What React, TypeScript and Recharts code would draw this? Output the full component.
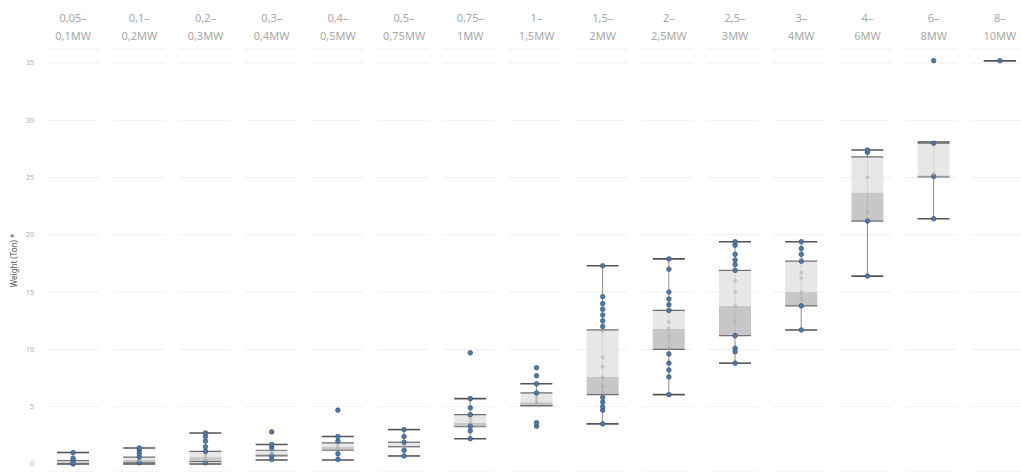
import React from "react";
import {
  Bar,
  CartesianGrid,
  ComposedChart,
  Scatter,
  XAxis,
  YAxis,
} from "recharts";

const CATS = [
  "0,05–|0,1MW",
  "0,1–|0,2MW",
  "0,2–|0,3MW",
  "0,3–|0,4MW",
  "0,4–|0,5MW",
  "0,5–|0,75MW",
  "0,75–|1MW",
  "1–|1,5MW",
  "1,5–|2MW",
  "2–|2,5MW",
  "2,5–|3MW",
  "3–|4MW",
  "4–|6MW",
  "6–|8MW",
  "8–|10MW",
];

// whisker ends and box quartiles, in tons
const LOW = [0, 0, 0, 0.35, 0.35, 0.7, 2.2, 5.1, 3.5, 6.05, 8.8, 11.7, 16.4, 21.4, 35.2];
const Q1 = [0.05, 0.1, 0.2, 0.7, 1.2, 1.5, 3.25, 5.1, 6.05, 10.0, 11.2, 13.8, 21.2, 25.05, null];
const MED = [0.15, 0.35, 0.6, 0.9, 1.5, 1.6, 3.6, 5.4, 7.6, 11.8, 13.8, 15.0, 23.7, 25.2, null];
const Q3 = [0.3, 0.6, 1.1, 1.2, 1.85, 1.9, 4.3, 6.2, 11.7, 13.4, 16.9, 17.7, 26.8, 28.0, null];
const HIGH = [1.0, 1.4, 2.7, 1.7, 2.4, 3.0, 5.7, 7.0, 17.3, 17.9, 19.4, 19.4, 27.4, 28.1, 35.2];

// individual observations per category
const POINTS: number[][] = [
  [0, 0.1, 0.2, 0.3, 0.5, 1.0],
  [0.1, 0.3, 0.4, 0.6, 0.9, 1.2, 1.4],
  [0.1, 0.3, 0.6, 0.9, 1.1, 1.5, 2.0, 2.4, 2.7],
  [0.4, 0.7, 0.9, 1.1, 1.4, 1.7, 2.8],
  [0.4, 0.9, 1.3, 1.6, 2.0, 2.4, 4.7],
  [0.7, 1.2, 1.6, 1.9, 2.4, 3.0],
  [2.2, 2.9, 3.3, 3.6, 3.9, 4.3, 4.9, 5.7, 9.7],
  [3.3, 3.6, 5.2, 5.5, 5.8, 6.2, 7.0, 7.7, 8.4],
  [3.5, 4.7, 5.0, 5.4, 5.8, 6.2, 6.8, 7.6, 8.5, 9.3, 11.6, 12.0, 12.5, 13.0, 13.5, 14.0, 14.6, 17.3],
  [6.05, 7.6, 8.2, 8.8, 9.6, 10.1, 11.2, 11.8, 12.4, 13.4, 13.9, 14.4, 15.0, 17.0, 17.9],
  [8.8, 9.8, 10.1, 11.2, 12.5, 13.8, 15.0, 16.0, 16.9, 17.4, 17.8, 18.3, 19.1, 19.4],
  [11.7, 13.8, 14.4, 15.0, 16.2, 16.7, 17.7, 18.3, 18.8, 19.4],
  [16.4, 21.2, 22.0, 25.0, 27.2, 27.4],
  [21.4, 25.1, 25.3, 28.0, 35.2],
  [35.2],
];

const Y_TICKS = [0, 5, 10, 15, 20, 25, 30, 35];

const rows = CATS.map((cat, i) => ({
  cat,
  low: LOW[i],
  q1: Q1[i],
  med: MED[i],
  q3: Q3[i],
  high: HIGH[i],
}));

const dots = POINTS.flatMap((vals, i) => vals.map((v) => ({ cat: CATS[i], v })));

const CatTick = (props: any) => {
  const { x, y, payload } = props;
  const [a, b] = String(payload.value).split("|");
  return (
    <g>
      <text x={x} y={y - 19} textAnchor="middle" fontSize={11} fill="#a8a8a8">
        {a}
      </text>
      <text x={x} y={y - 1} textAnchor="middle" fontSize={11} fill="#a8a8a8">
        {b}
      </text>
    </g>
  );
};

const Whisker = (props: any) => {
  const { x, y, width, height } = props;
  if (x == null || y == null) return null;
  const cx = x + width / 2;
  const h = Math.abs(height || 0);
  const top = height < 0 ? y - h : y;
  return (
    <g>
      <line x1={cx} x2={cx} y1={top} y2={top + h} stroke="#8c8c8c" strokeWidth={1} />
      <line x1={x} x2={x + width} y1={top} y2={top} stroke="#555" strokeWidth={1.6} />
      <line x1={x} x2={x + width} y1={top + h} y2={top + h} stroke="#555" strokeWidth={1.6} />
    </g>
  );
};

const UpperBox = (props: any) => {
  const { x, y, width, height } = props;
  if (x == null || y == null) return null;
  return (
    <g>
      <rect x={x} y={y} width={width} height={Math.max(height, 0)} fill="#e2e2e2" fillOpacity={0.82} />
      <line x1={x} x2={x + width} y1={y} y2={y} stroke="#6e6e6e" strokeWidth={1.2} />
    </g>
  );
};

const LowerBox = (props: any) => {
  const { x, y, width, height } = props;
  if (x == null || y == null) return null;
  const h = Math.max(height, 0);
  return (
    <g>
      <rect x={x} y={y} width={width} height={h} fill="#bdbdbd" fillOpacity={0.85} />
      <line x1={x} x2={x + width} y1={y + h} y2={y + h} stroke="#6e6e6e" strokeWidth={1.2} />
    </g>
  );
};

// points inside the box are drawn faded, as if seen through it
const Dot = (props: any) => {
  const { cx, cy, payload } = props;
  if (cx == null || cy == null) return null;
  const row = rows.find((r) => r.cat === payload?.cat);
  const inside =
    row && row.q1 != null && row.q3 != null && payload.v > row.q1 + 0.05 && payload.v < row.q3 - 0.05;
  if (inside) {
    return <circle cx={cx} cy={cy} r={2} fill="#a9a9a9" fillOpacity={0.45} />;
  }
  return <circle cx={cx} cy={cy} r={2.3} fill="#4e79a7" stroke="#3a5878" strokeWidth={0.7} />;
};

export default function App() {
  return (
    <div
      style={{
        position: "fixed",
        left: 0,
        top: 0,
        width: 1021,
        height: 472,
        overflow: "hidden",
        background: "#fff",
        fontFamily: "'Noto Sans', sans-serif",
      }}
    >
      <ComposedChart
        width={1040}
        height={472}
        data={rows}
        margin={{ top: 0, right: 7, left: 0, bottom: 0 }}
      >
        <CartesianGrid vertical={false} stroke="#efefef" strokeDasharray="0 7 52 7" />
        <XAxis
          xAxisId="top"
          dataKey="cat"
          type="category"
          allowDuplicatedCategory={false}
          orientation="top"
          height={49}
          axisLine={false}
          tickLine={false}
          interval={0}
          tick={<CatTick />}
        />
        <XAxis xAxisId="lo" dataKey="cat" type="category" allowDuplicatedCategory={false} hide />
        <XAxis xAxisId="up" dataKey="cat" type="category" allowDuplicatedCategory={false} hide />
        <XAxis xAxisId="pt" dataKey="cat" type="category" allowDuplicatedCategory={false} hide />
        <YAxis
          domain={[-0.7, 36.22]}
          ticks={Y_TICKS}
          allowDataOverflow
          width={40}
          axisLine={false}
          tickLine={false}
          tickMargin={0}
          tick={{ fontSize: 7, fill: "#aaaaaa" }}
          label={{
            value: "Weight (Ton) *",
            angle: -90,
            position: "insideLeft",
            offset: 14,
            style: { fontSize: 8, fill: "#555", textAnchor: "middle" },
          }}
        />
        <Bar
          xAxisId="top"
          dataKey={(d: any) => [d.low, d.high]}
          barSize={32}
          shape={<Whisker />}
          isAnimationActive={false}
        />
        <Bar
          xAxisId="lo"
          dataKey={(d: any) => (d.q1 == null ? null : [d.q1, d.med])}
          barSize={32}
          shape={<LowerBox />}
          isAnimationActive={false}
        />
        <Bar
          xAxisId="up"
          dataKey={(d: any) => (d.q3 == null ? null : [d.med, d.q3])}
          barSize={32}
          shape={<UpperBox />}
          isAnimationActive={false}
        />
        <Scatter
          xAxisId="pt"
          data={dots}
          dataKey="v"
          shape={<Dot />}
          isAnimationActive={false}
        />
      </ComposedChart>
    </div>
  );
}
